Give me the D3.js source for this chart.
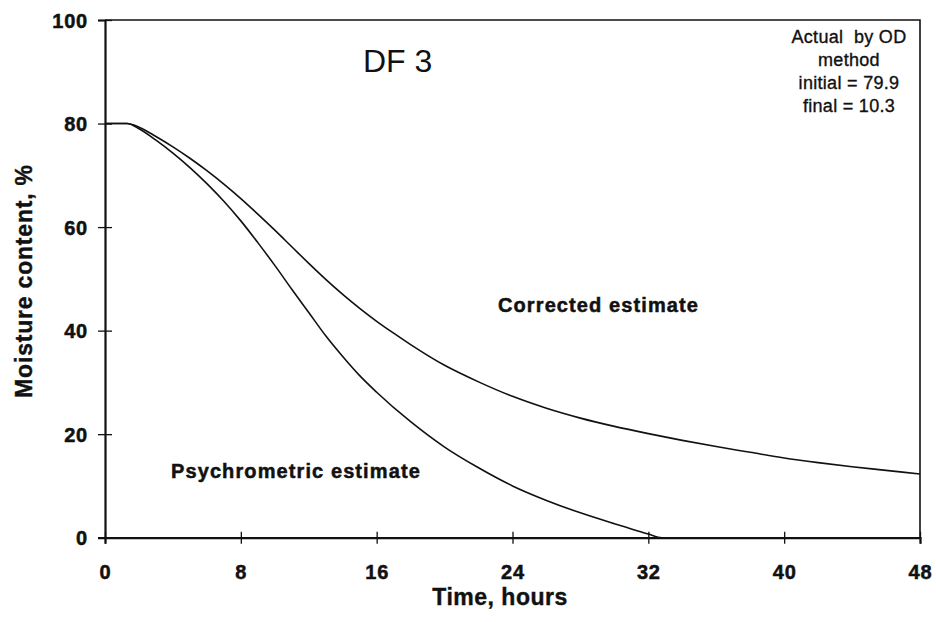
<!DOCTYPE html>
<html>
<head>
<meta charset="utf-8">
<script src="https://cdn.jsdelivr.net/npm/d3@7"></script>
<style>
    html, body { margin: 0; padding: 0; background: #fff; }
    #ground { width: 936px; height: 622px; }
    text { font-family: "Liberation Sans", Arial, sans-serif; fill: #111; }
</style>
</head>
<body>
<div id="ground"></div>
<script>
// moisture curves
const hours = [0, 1.3, 2, 3, 4, 5, 6, 7, 8, 9, 10, 11, 12, 13, 14, 15, 16, 17, 18, 20, 22, 24, 26, 28, 30, 32, 34, 36, 38, 40, 42, 44, 46, 48];
const corrected = [80, 80, 79.3, 77.5, 75.5, 73.3, 70.9, 68.3, 65.5, 62.5, 59.4, 56.2, 53.0, 49.9, 47.0, 44.3, 41.8, 39.5, 37.3, 33.3, 30.1, 27.3, 25.0, 23.1, 21.5, 20.1, 18.8, 17.6, 16.5, 15.4, 14.5, 13.7, 13.0, 12.3];

const psyHours = [0, 1.3, 2, 3, 4, 5, 6, 7, 8, 9, 10, 11, 12, 13, 14, 15, 16, 18, 20, 22, 24, 26, 28, 30, 31, 32, 32.8, 48];
const psychro = [80, 80, 79.0, 76.8, 74.3, 71.5, 68.4, 65.0, 61.2, 57.0, 52.6, 48.0, 43.5, 39.0, 35.0, 31.3, 28.1, 22.4, 17.5, 13.5, 10.0, 7.2, 4.8, 2.7, 1.7, 0.7, 0, 0];

const xTicks = [0, 8, 16, 24, 32, 40, 48];
const yTicks = [0, 20, 40, 60, 80, 100];

const noteLines = ["Actual  by OD", "method", "initial = 79.9", "final = 10.3"];

document.addEventListener("DOMContentLoaded", function () {

    const width = 936, height = 622,
        left = 105, right = 920, top = 20, bottom = 537.7;

    let svg = d3.select("#ground")
        .append("svg")
        .attr("width", width)
        .attr("height", height)
        .attr("viewBox", "0 0 " + width + " " + height);

    let x = d3.scaleLinear().domain([0, 48]).range([left, right]);
    let y = d3.scaleLinear().domain([0, 100]).range([bottom, top]);

    // frame top and right
    svg.append("path")
        .attr("d", "M" + left + "," + top + "H" + right + "V" + bottom)
        .attr("fill", "none")
        .attr("stroke", "#111")
        .attr("stroke-width", 1.6);

    let yAxis = svg.append("g")
        .attr("transform", "translate(" + left + ",0)")
        .call(d3.axisLeft(y).tickValues(yTicks).tickSize(7).tickPadding(10).tickFormat(d3.format("d")));

    let xAxis = svg.append("g")
        .attr("transform", "translate(0," + bottom + ")")
        .call(d3.axisBottom(x).tickValues(xTicks).tickSize(6).tickPadding(21).tickFormat(d3.format("d")));

    [yAxis, xAxis].forEach(function (ax) {
        ax.select(".domain").attr("stroke", "#111").attr("stroke-width", 2.2);
        ax.selectAll(".tick line").attr("stroke", "#111").attr("stroke-width", 1.3);
        ax.selectAll(".tick text")
            .attr("fill", "#111")
            .attr("stroke", "#111")
            .attr("stroke-width", 0.5)
            .style("font-family", "'Liberation Sans', Arial, sans-serif")
            .style("font-size", "20px")
            .style("font-weight", "bold")
            .style("letter-spacing", "0.8px");
    });
    // ticks cross the axis lines
    yAxis.selectAll(".tick line").attr("x1", 7);
    xAxis.selectAll(".tick line").attr("y1", -6);
    yAxis.selectAll(".tick text").attr("dy", "0.36em");

    let line = function (xs) {
        return d3.line()
            .x((d, i) => x(xs[i]))
            .y(d => y(d))
            .curve(d3.curveMonotoneX);
    };

    svg.append("path")
        .attr("d", line(hours)(corrected))
        .attr("fill", "none")
        .attr("stroke", "#111")
        .attr("stroke-width", 1.6);

    svg.append("path")
        .attr("d", line(psyHours)(psychro))
        .attr("fill", "none")
        .attr("stroke", "#111")
        .attr("stroke-width", 1.6);

    // axis titles
    svg.append("text")
        .attr("x", 500)
        .attr("y", 605)
        .attr("text-anchor", "middle")
        .attr("stroke", "#111")
        .attr("stroke-width", 0.4)
        .style("font-size", "23px")
        .style("font-weight", "bold")
        .style("letter-spacing", "0.5px")
        .text("Time, hours");

    svg.append("text")
        .attr("transform", "translate(32,281) rotate(-90)")
        .attr("text-anchor", "middle")
        .attr("stroke", "#111")
        .attr("stroke-width", 0.4)
        .style("font-size", "23px")
        .style("font-weight", "bold")
        .style("letter-spacing", "0.8px")
        .text("Moisture content, %");

    // labels inside the plot
    svg.append("text")
        .attr("x", 363)
        .attr("y", 72)
        .style("font-size", "32px")
        .text("DF 3");

    [["Corrected estimate", 498, 312], ["Psychrometric estimate", 171, 478]].forEach(function (l) {
        svg.append("text")
            .attr("x", l[1])
            .attr("y", l[2])
            .attr("stroke", "#111")
            .attr("stroke-width", 0.5)
            .style("font-size", "20px")
            .style("font-weight", "bold")
            .style("letter-spacing", "1.1px")
            .text(l[0]);
    });

    let note = svg.append("text")
        .attr("text-anchor", "middle")
        .attr("stroke", "#111")
        .attr("stroke-width", 0.35)
        .style("font-size", "18px")
        .style("letter-spacing", "0.3px")
        .style("white-space", "pre");

    noteLines.forEach(function (t, i) {
        note.append("tspan")
            .attr("x", 849)
            .attr("y", 43 + i * 23)
            .text(t);
    });

});
</script>
</body>
</html>
